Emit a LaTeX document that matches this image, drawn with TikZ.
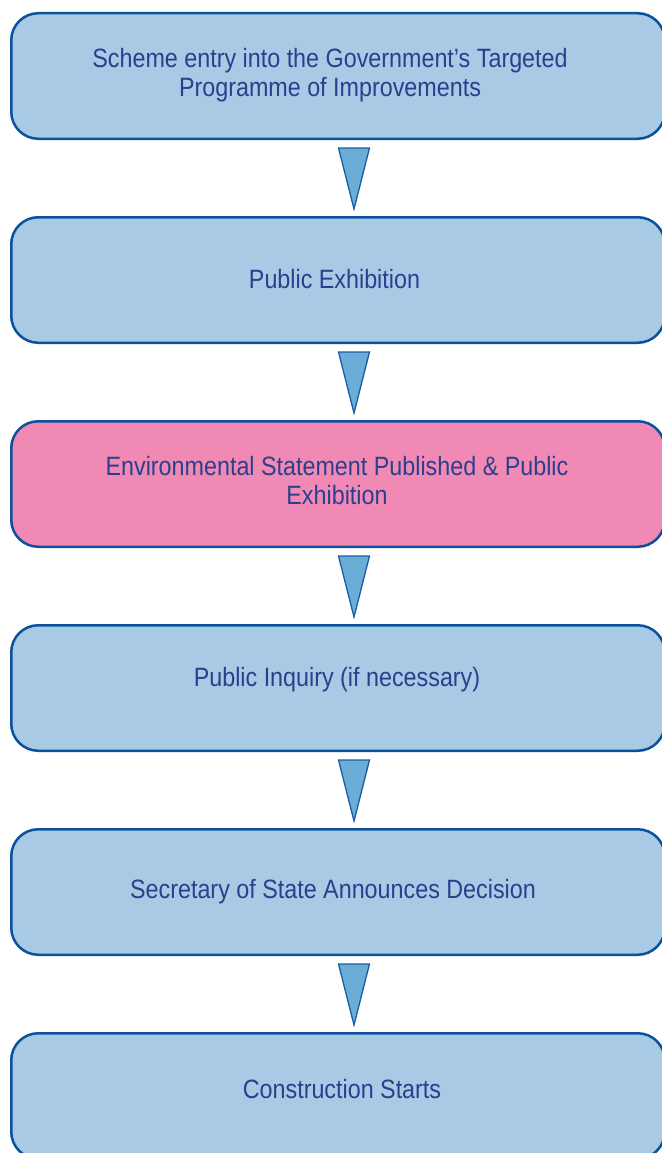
\documentclass[tikz,border=0pt]{standalone}
\usepackage{fontspec}
\setmainfont{Liberation Sans}[FakeStretch=0.88]
\usetikzlibrary{calc}
\definecolor{boxfill}{HTML}{A8CAE4}
\definecolor{pinkfill}{HTML}{F08AB5}
\definecolor{boxline}{HTML}{0B519C}
\definecolor{txtblue}{HTML}{2A3F8E}
\definecolor{trifill}{HTML}{6AAED8}
\definecolor{triline}{HTML}{1A5CA5}
\begin{document}
\begin{tikzpicture}[x=1pt,y=1pt,
  stagebox/.style={draw=boxline, line width=2.5pt, fill=boxfill, rounded corners=27pt,
    minimum width=653.5pt, minimum height=125.5pt, inner sep=0pt},
  stagetext/.style={text=txtblue, font=\fontsize{26.5}{29}\selectfont, align=center, inner sep=0pt, anchor=base},
  tri/.style={draw=triline, line width=1.3pt, fill=trifill, line join=miter}]
\useasboundingbox (0,0) rectangle (661,-1153);
\coordinate (ax) at (354,0);
\node[stagebox] (b1) at (338,-76) {};
\node[stagebox] (b2) at (338,-280) {};
\node[stagebox, fill=pinkfill] (b3) at (338,-484) {};
\node[stagebox] (b4) at (338,-688) {};
\node[stagebox] (b5) at (338,-892) {};
\node[stagebox] (b6) at (338,-1096) {};
\node[stagetext] (t1) at (330,-97) {Scheme entry into the Government’s Targeted\\Programme of Improvements};
\node[stagetext] (t2) at (334.5,-288) {Public Exhibition};
\node[stagetext] (t3) at (337,-504) {Environmental Statement Published \& Public\\Exhibition};
\node[stagetext] (t4) at (337,-686) {Public Inquiry (if necessary)};
\node[stagetext] (t5) at (333,-898) {Secretary of State Announces Decision};
\node[stagetext] (t6) at (342,-1098) {Construction Starts};
\foreach \a/\b in {b1/b2,b2/b3,b3/b4,b4/b5,b5/b6}{
  \draw[tri] ($(\a.south -| ax)+(-15.5,-8)$) -- ($(\a.south -| ax)+(15.5,-8)$) -- ($(\b.north -| ax)+(0,7)$) -- cycle;
}
\end{tikzpicture}
\end{document}
